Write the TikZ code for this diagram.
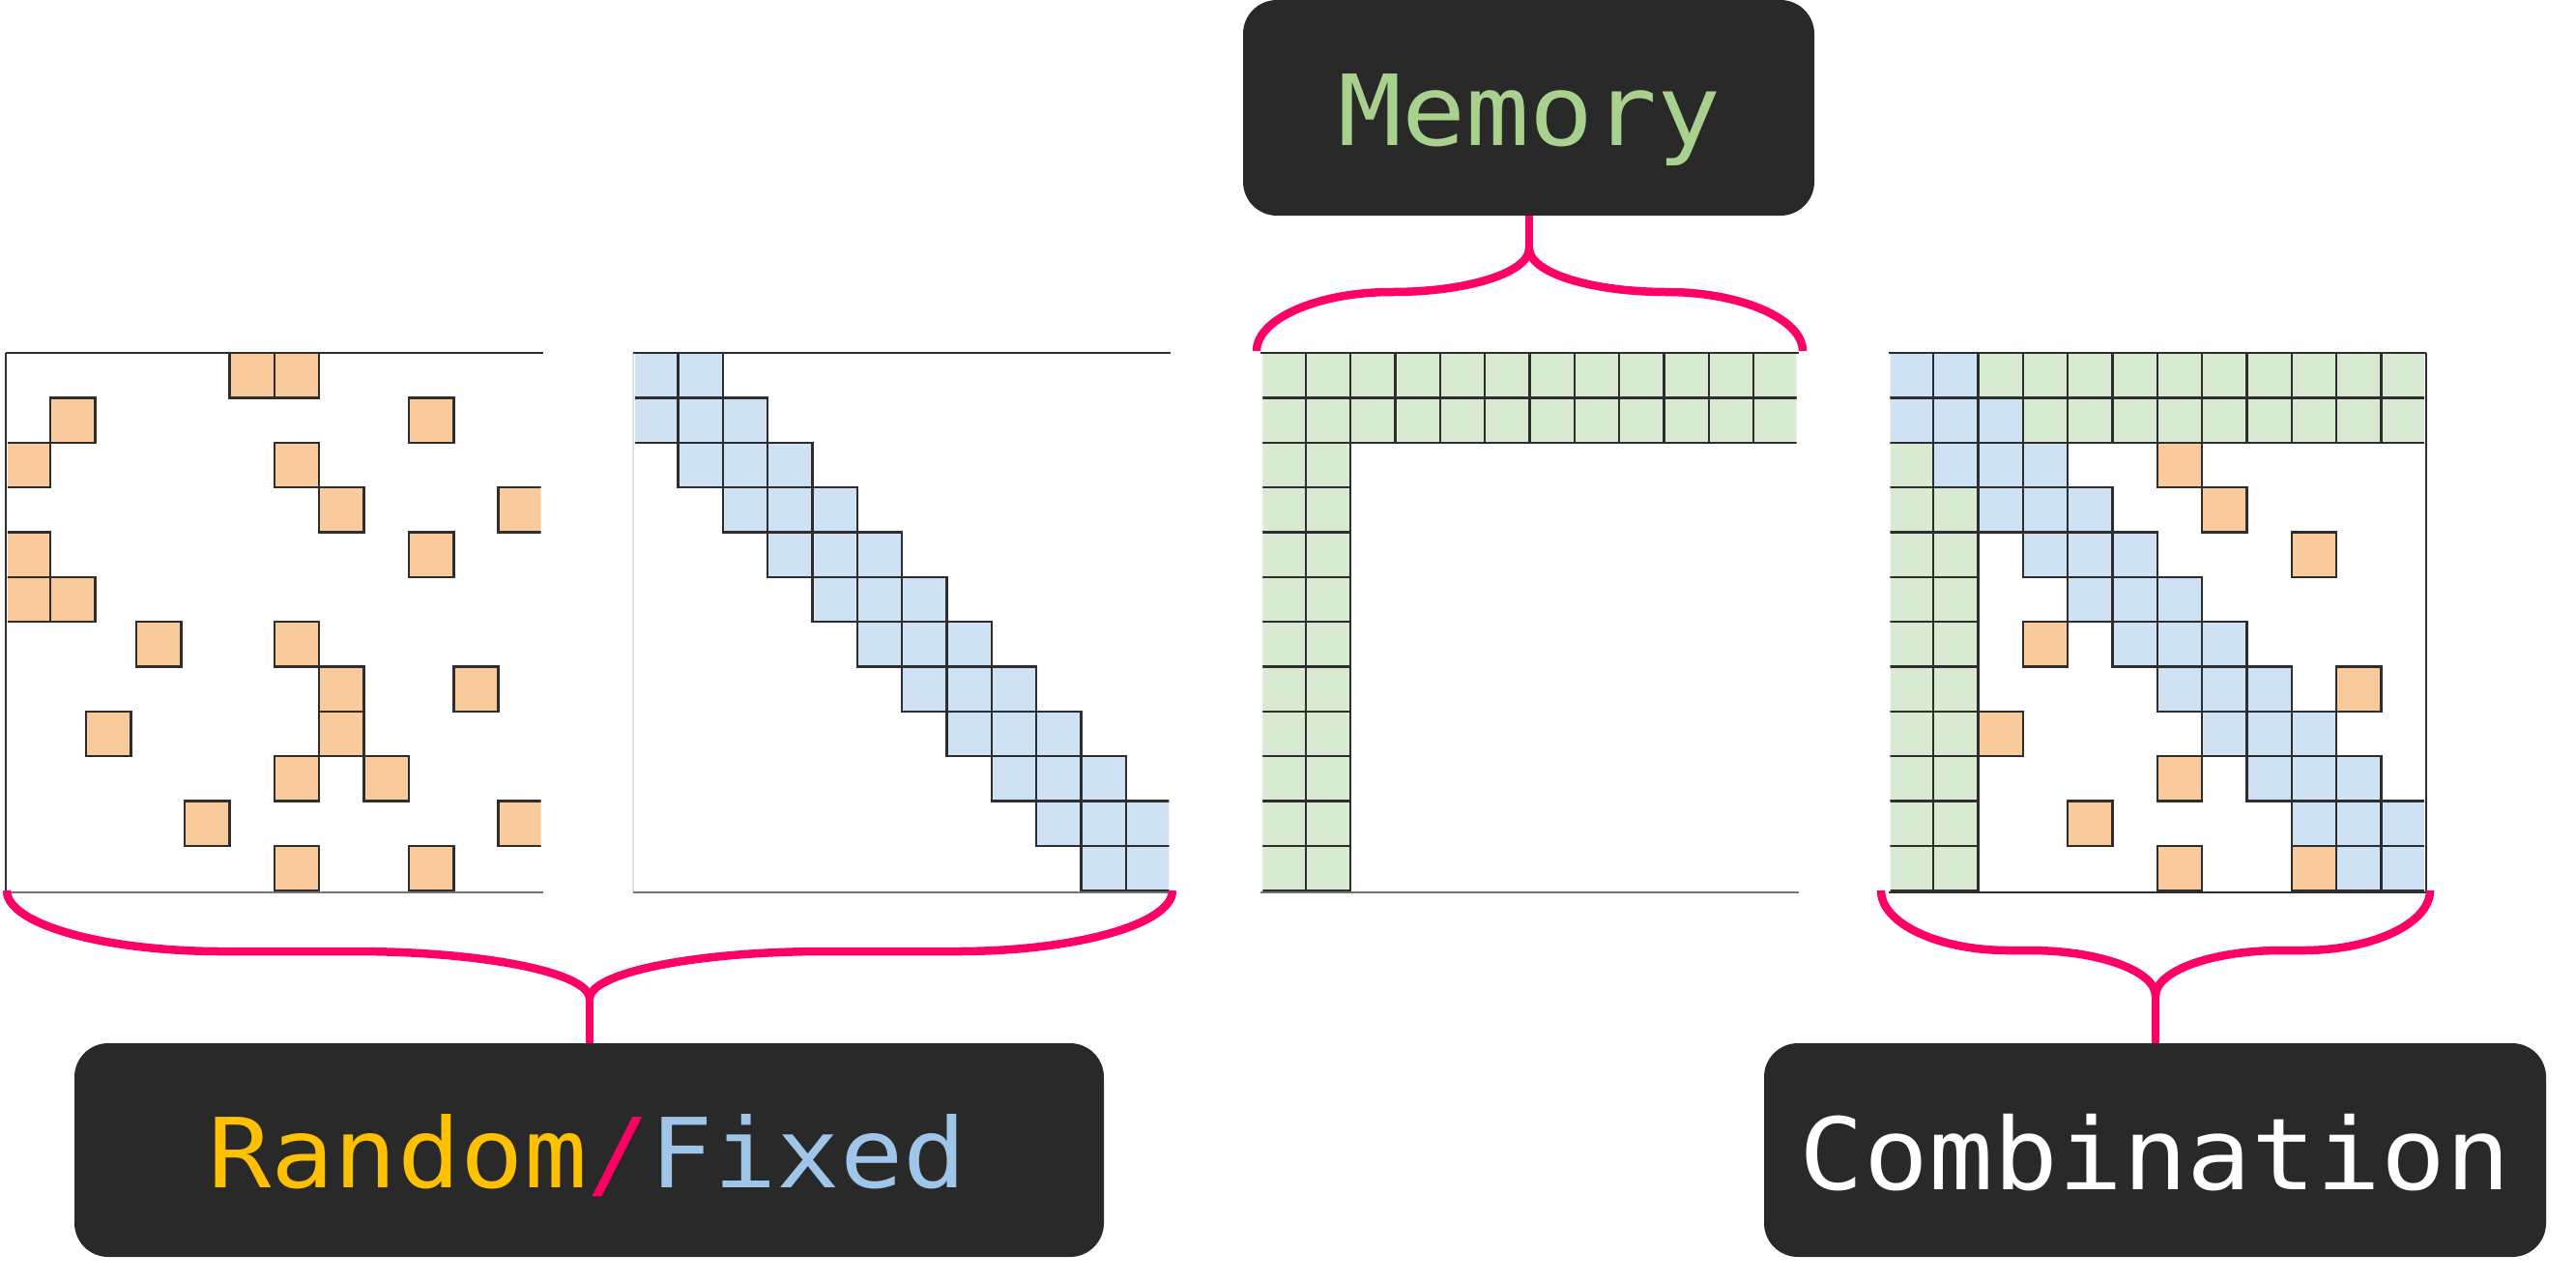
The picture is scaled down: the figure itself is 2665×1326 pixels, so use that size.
\documentclass[tikz,border=0pt]{standalone}
\usepackage{fontspec}
\usepackage{graphicx}
\newfontfamily\labelfont{DejaVu Sans Mono}
\definecolor{boxbg}{HTML}{292929}
\definecolor{bracecol}{HTML}{FF0066}
\definecolor{cellO}{HTML}{F9CB9C}
\definecolor{cellB}{HTML}{CFE2F3}
\definecolor{cellG}{HTML}{D9EAD3}
\definecolor{txtY}{HTML}{FFC000}
\definecolor{txtB}{HTML}{9FC5E8}
\definecolor{txtG}{HTML}{A9D18E}
\newcommand\mcell[4]{\path[cellbox, fill=#4] ({#1+(#3)*46.35},{365+(#2)*46.35}) rectangle ++(46.35,46.35);}
\tikzset{
  cellbox/.style={draw=black!82, line width=2.4pt},
  topline/.style={draw=black!82, line width=2.6pt},
  botline/.style={draw=black!55, line width=2.2pt},
  sideline/.style={draw=black!82, line width=2.6pt},
  faintline/.style={draw=black!12, line width=2pt},
  bracepath/.style={draw=bracecol, line width=8.5pt},
  labelbox/.style={fill=boxbg, rounded corners=35pt, inner sep=0pt, draw=none},
  labeltext/.style={inner sep=0pt, anchor=base, font=\labelfont},
}
\begin{document}
\begin{tikzpicture}[x=1pt,y=-1pt]
\useasboundingbox (0,0) rectangle (2665,1326);
\fill[white] (0,0) rectangle (2665,1326);

% ---------- Grid 1: Random ----------
\begin{scope}
\clip (7.8,355) rectangle (559.5,933);
\foreach \r/\c in {0/5,0/6,1/1,1/9,2/0,2/6,3/7,3/11,4/0,4/9,5/0,5/1,6/2.92,6/6,7/7,7/10,8/1.8,8/7,9/6,9/8,10/4,10/11,11/6,11/9}{\mcell{5.8}{\r}{\c}{cellO}}
\end{scope}
\draw[topline] (5.8,365) -- (562,365);
\draw[sideline] (5.8,365) -- (5.8,923);
\draw[botline] (5.8,923) -- (562,923);

% ---------- Grid 2: Fixed ----------
\begin{scope}
\clip (657.1,355) rectangle (1209.3,933);
\foreach \r in {0,...,11}{\foreach \d in {-1,0,1}{\pgfmathtruncatemacro\cc{\r+\d}\ifnum\cc>-1\relax\ifnum\cc<12\relax\mcell{655.1}{\r}{\cc}{cellB}\fi\fi}}
\end{scope}
\draw[faintline] (655.1,365) -- (655.1,923);
\draw[topline] (655.1,365) -- (1211.3,365);
\draw[botline] (655.1,923) -- (1211.3,923);

% ---------- Grid 3: Memory ----------
\begin{scope}
\clip (1306.4,355) rectangle (1858.6,933);
\foreach \c in {0,...,11}{\mcell{1304.4}{0}{\c}{cellG}\mcell{1304.4}{1}{\c}{cellG}}
\foreach \r in {2,...,11}{\mcell{1304.4}{\r}{0}{cellG}\mcell{1304.4}{\r}{1}{cellG}}
\end{scope}
\draw[topline] (1304.4,365) -- (1860.6,365);
\draw[botline] (1304.4,923) -- (1860.6,923);

% ---------- Grid 4: Combination ----------
\begin{scope}
\clip (1955.7,355) rectangle (2507.9,933);
\foreach \c in {0,...,11}{\mcell{1953.7}{0}{\c}{cellG}\mcell{1953.7}{1}{\c}{cellG}}
\foreach \r in {2,...,11}{\mcell{1953.7}{\r}{0}{cellG}\mcell{1953.7}{\r}{1}{cellG}}
\foreach \r in {0,...,11}{\foreach \d in {-1,0,1}{\pgfmathtruncatemacro\cc{\r+\d}\ifnum\cc>-1\relax\ifnum\cc<12\relax\mcell{1953.7}{\r}{\cc}{cellB}\fi\fi}}
\foreach \r/\c in {2/6,3/7,4/9,6/3,7/10,8/2,9/6,10/4,11/6,11/9}{\mcell{1953.7}{\r}{\c}{cellO}}
\end{scope}
\draw[topline] (1953.7,365) -- (2509.9,365);
\draw[sideline] (2509.9,365) -- (2509.9,923);
\draw[topline] (1953.7,923) -- (2509.9,923);

% ---------- Label boxes ----------
\node[labelbox, minimum width=591pt, minimum height=223pt] (membox) at (1581.5,111.5) {};
\node[labelbox, minimum width=1065pt, minimum height=221pt] (rfbox) at (609.5,1189.5) {};
\node[labelbox, minimum width=809pt, minimum height=221pt] (cbbox) at (2229.5,1189.5) {};

\node[labeltext] (memtxt) at (1582.5,150) {\fontsize{101.5}{120}\selectfont\scalebox{1.082}[1]{\textcolor{txtG}{Memory}}};
\node[labeltext] (rftxt) at (607.5,1228) {\fontsize{100}{120}\selectfont\scalebox{1.086}[1]{\textcolor{txtY}{Random}\textcolor{bracecol}{/}\textcolor{txtB}{Fixed}}};
\node[labeltext] (cbtxt) at (2229.5,1230) {\fontsize{103}{120}\selectfont\scalebox{1.079}[1]{\textcolor{white}{Combination}}};

% ---------- Braces ----------
\coordinate (rfL) at (7,921);
\coordinate (rfR) at (1213,921);
\coordinate (rfC) at (610,1033);
\coordinate (memL) at (1300,363);
\coordinate (memR) at (1865,363);
\coordinate (memC) at (1582,257);
\coordinate (cbL) at (1946,921);
\coordinate (cbR) at (2514,921);
\coordinate (cbC) at (2230,1030);

\draw[bracepath] (rfL) .. controls (7,956) and (108,984) .. (230,984) -- (366,984) .. controls (500,984) and (610,1006) .. (rfC);
\draw[bracepath] (rfR) .. controls (1213,956) and (1112,984) .. (990,984) -- (854,984) .. controls (720,984) and (610,1006) .. (rfC);
\draw[bracepath] (610,1026) -- (rfbox.north -| rfC);

\draw[bracepath] (memL) .. controls (1300,330) and (1363,302) .. (1440,302) .. controls (1518,302) and (1582,282) .. (memC);
\draw[bracepath] (memR) .. controls (1865,330) and (1801,302) .. (1724,302) .. controls (1646,302) and (1582,282) .. (memC);
\draw[bracepath] (1582,264) -- (membox.south -| memC);

\draw[bracepath] (cbL) .. controls (1946,955) and (2005,983) .. (2078,983) -- (2100,983) .. controls (2171,983) and (2230,1004) .. (cbC);
\draw[bracepath] (cbR) .. controls (2514,955) and (2455,983) .. (2382,983) -- (2360,983) .. controls (2289,983) and (2230,1004) .. (cbC);
\draw[bracepath] (2230,1023) -- (cbbox.north -| cbC);
\end{tikzpicture}
\end{document}
